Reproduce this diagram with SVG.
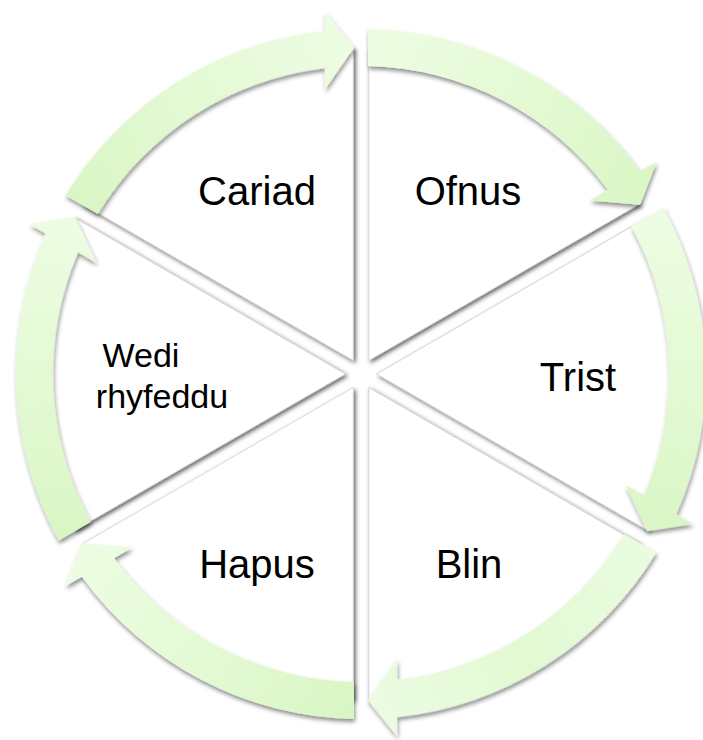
<svg xmlns="http://www.w3.org/2000/svg" width="703" height="740" viewBox="0 0 703 740">
  <defs>
    <style>
      .wedge { fill: #ffffff; stroke: #cfcfcf; stroke-width: 0.8; }
      .lbl { font-family: "Liberation Sans", Arial, sans-serif; font-size: 40px; fill: #000000; text-anchor: middle; }
      .lbl2 { font-family: "Liberation Sans", Arial, sans-serif; font-size: 34px; fill: #000000; text-anchor: middle; }
    </style>
    <filter id="wshadow" x="-10%" y="-10%" width="125%" height="125%">
      <feDropShadow dx="2" dy="2" stdDeviation="2" flood-color="#000" flood-opacity="0.6"/>
    </filter>
    <filter id="ashadow" x="-10%" y="-10%" width="125%" height="130%">
      <feDropShadow dx="1" dy="3" stdDeviation="2" flood-color="#000" flood-opacity="0.45"/>
    </filter>
    <linearGradient id="gLG" gradientUnits="userSpaceOnUse" x1="368" y1="47.6" x2="640" y2="205">
      <stop offset="0" stop-color="#edfde3"/>
      <stop offset="1" stop-color="#daf6c5"/>
    </linearGradient>
    <linearGradient id="gGL" gradientUnits="userSpaceOnUse" x1="368" y1="47.6" x2="640" y2="205">
      <stop offset="0" stop-color="#daf6c5"/>
      <stop offset="1" stop-color="#edfde3"/>
    </linearGradient>
    <linearGradient id="gMid" gradientUnits="userSpaceOnUse" x1="368" y1="47.6" x2="640" y2="205">
      <stop offset="0" stop-color="#eafce0"/>
      <stop offset="0.5" stop-color="#e2f9d2"/>
      <stop offset="1" stop-color="#ebfce2"/>
    </linearGradient>
    <path id="wedge" d="M 368.75 360.58 L 368.75 48.09 A 326 326 0 0 1 639.37 204.34 Z"/>
    <path id="arrow" d="M 368 29.07 A 345 345 0 0 1 640.14 171.26 L 656.69 161.71 L 640.19 204.73 L 589.58 200.45 L 607.91 189.87 A 308 308 0 0 0 368 66.08 Z"/>
  </defs>
  <rect width="703" height="740" fill="#ffffff"/>

  <g id="node-cariad">
    <g filter="url(#wshadow)"><use href="#wedge" class="wedge" transform="rotate(300 361 374)"/></g>
    <text class="lbl" x="257" y="205">Cariad</text>
  </g>
  <g id="node-ofnus">
    <g filter="url(#wshadow)"><use href="#wedge" class="wedge"/></g>
    <text class="lbl" x="468" y="205">Ofnus</text>
  </g>
  <g id="node-trist">
    <g filter="url(#wshadow)"><use href="#wedge" class="wedge" transform="rotate(60 361 374)"/></g>
    <text class="lbl" x="578" y="391">Trist</text>
  </g>
  <g id="node-blin">
    <g filter="url(#wshadow)"><use href="#wedge" class="wedge" transform="rotate(120 361 374)"/></g>
    <text class="lbl" x="469" y="578">Blin</text>
  </g>
  <g id="node-hapus">
    <g filter="url(#wshadow)"><use href="#wedge" class="wedge" transform="rotate(180 361 374)"/></g>
    <text class="lbl" x="257" y="578">Hapus</text>
  </g>
  <g id="node-wedi">
    <g filter="url(#wshadow)"><use href="#wedge" class="wedge" transform="rotate(240 361 374)"/></g>
    <text class="lbl2" x="141" y="367">Wedi</text>
    <text class="lbl2" x="162" y="408">rhyfeddu</text>
  </g>

  <g id="connectors" filter="url(#ashadow)">
    <use href="#arrow" fill="url(#gLG)"/>
    <use href="#arrow" fill="url(#gLG)" transform="rotate(60 361 374)"/>
    <use href="#arrow" fill="url(#gMid)" transform="rotate(120 361 374)"/>
    <use href="#arrow" fill="url(#gGL)" transform="rotate(180 361 374)"/>
    <use href="#arrow" fill="url(#gGL)" transform="rotate(240 361 374)"/>
    <use href="#arrow" fill="url(#gGL)" transform="rotate(300 361 374)"/>
  </g>
</svg>
